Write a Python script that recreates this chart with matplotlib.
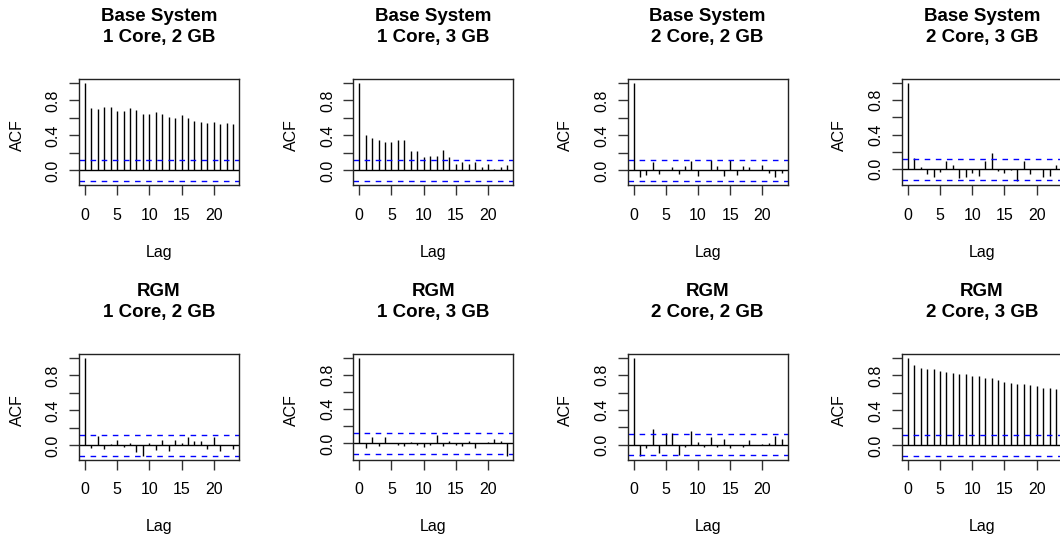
import numpy as np
import matplotlib
matplotlib.use("Agg")
from matplotlib import pyplot as plt

plt.rcParams['font.family'] = ['Liberation Sans', 'DejaVu Sans']

lags = np.arange(24)
clim = 0.122

titles = ["Base System\n1 Core, 2 GB", "Base System\n1 Core, 3 GB",
          "Base System\n2 Core, 2 GB", "Base System\n2 Core, 3 GB",
          "RGM\n1 Core, 2 GB", "RGM\n1 Core, 3 GB",
          "RGM\n2 Core, 2 GB", "RGM\n2 Core, 3 GB"]

base_1c_2g = [1.0, 0.71, 0.70, 0.72, 0.72, 0.68, 0.68, 0.71, 0.685, 0.65, 0.65, 0.665,
              0.65, 0.61, 0.60, 0.63, 0.60, 0.565, 0.555, 0.54, 0.555, 0.535, 0.54, 0.535]
base_1c_3g = [1.0, 0.40, 0.365, 0.35, 0.32, 0.32, 0.35, 0.35, 0.22, 0.22, 0.15, 0.165,
              0.17, 0.23, 0.15, 0.073, 0.096, 0.073, 0.10, 0.035, 0.073, 0.012, 0.035, 0.058]
base_2c_2g = [1.0, -0.08, -0.058, 0.10, -0.04, 0.01, 0.035, -0.04, 0.05, 0.11, -0.065, 0.01,
              0.12, 0.05, -0.065, 0.12, -0.05, 0.05, 0.035, 0.01, 0.058, -0.027, -0.077, -0.027]
base_2c_3g = [1.0, 0.127, 0.027, -0.058, -0.088, -0.035, 0.088, 0.042, -0.11, -0.096, -0.05, -0.08,
              0.096, 0.19, -0.027, -0.046, -0.012, -0.14, 0.096, -0.058, 0.004, -0.088, -0.08, 0.042]
rgm_1c_2g = [1.0, -0.027, 0.104, -0.046, 0.015, 0.058, -0.02, 0.027, -0.073, -0.12, 0.027, -0.05,
             0.058, -0.065, 0.058, 0.027, 0.096, 0.05, 0.05, -0.042, 0.096, -0.065, 0.003, -0.042]
rgm_1c_3g = [1.0, -0.054, 0.078, -0.031, 0.078, 0.004, -0.02, -0.035, 0.02, -0.023, -0.039, -0.016,
             0.10, -0.027, 0.023, -0.016, -0.031, 0.031, -0.058, 0.003, 0.016, 0.054, 0.023, -0.148]
rgm_2c_2g = [1.0, -0.13, -0.038, 0.185, -0.092, 0.138, 0.138, -0.115, -0.03, 0.16, 0.03, -0.023,
             0.092, -0.023, 0.061, -0.038, 0.003, -0.03, 0.054, 0.003, 0.004, 0.015, 0.10, 0.061]
rgm_2c_3g = [1.0, 0.915, 0.89, 0.877, 0.87, 0.846, 0.838, 0.83, 0.815, 0.815, 0.79, 0.79,
             0.77, 0.77, 0.746, 0.723, 0.715, 0.70, 0.70, 0.69, 0.677, 0.654, 0.654, 0.646]

series = [base_1c_2g, base_1c_3g, base_2c_2g, base_2c_3g,
          rgm_1c_2g, rgm_1c_3g, rgm_2c_2g, rgm_2c_3g]

W, H = 1060, 541
fig = plt.figure(figsize=(W / 100, H / 100), dpi=100)

lefts = [79 + i * 274.3 for i in range(4)]
tops = [79, 354]
bw, bh = 160, 106

for k, (acf, title) in enumerate(zip(series, titles)):
    r, c = divmod(k, 4)
    x0, y0 = lefts[c], tops[r]
    ax = fig.add_axes([x0 / W, 1 - (y0 + bh) / H, bw / W, bh / H])
    acf = np.array(acf)
    ax.vlines(lags, 0, acf, color='black', lw=1.0)
    ax.axhline(0, color='black', lw=1.0)
    ax.axhline(clim, color='blue', lw=1.0, ls=(0, (4, 4)))
    ax.axhline(-clim, color='blue', lw=1.0, ls=(0, (4, 4)))
    # R style limits: data range padded by 4%
    lo = min(-clim, acf.min())
    hi = 1.0
    pad = 0.04 * (hi - lo)
    ax.set_ylim(lo - pad, hi + pad)
    ax.set_xlim(-0.04 * 23, 23 * 1.04)
    ax.set_xticks([0, 5, 10, 15, 20])
    ax.set_xticklabels(['0', '5', '10', '15', '20'])
    ax.set_yticks([0.0, 0.2, 0.4, 0.6, 0.8, 1.0])
    ax.set_yticklabels(['0.0', '', '0.4', '', '0.8', ''], rotation=90, va='center')
    ax.tick_params(axis='both', length=7.2, width=1.0, labelsize=11.5, color='#333333')
    ax.tick_params(axis='x', pad=9)
    ax.tick_params(axis='y', pad=6)
    for s in ax.spines.values():
        s.set_linewidth(1.0)
        s.set_color('#222222')
    ax.set_title(title, fontsize=13.5, fontweight='bold', pad=26.5, linespacing=1.35)
    fig.text((x0 - 62) / W, 1 - (y0 + 56) / H, 'ACF', rotation=90,
             ha='center', va='center', fontsize=11.5)
    fig.text((x0 + bw / 2) / W, 1 - (y0 + 173) / H, 'Lag',
             ha='center', va='center', fontsize=11.5)

fig.savefig('out.png', dpi=100)
